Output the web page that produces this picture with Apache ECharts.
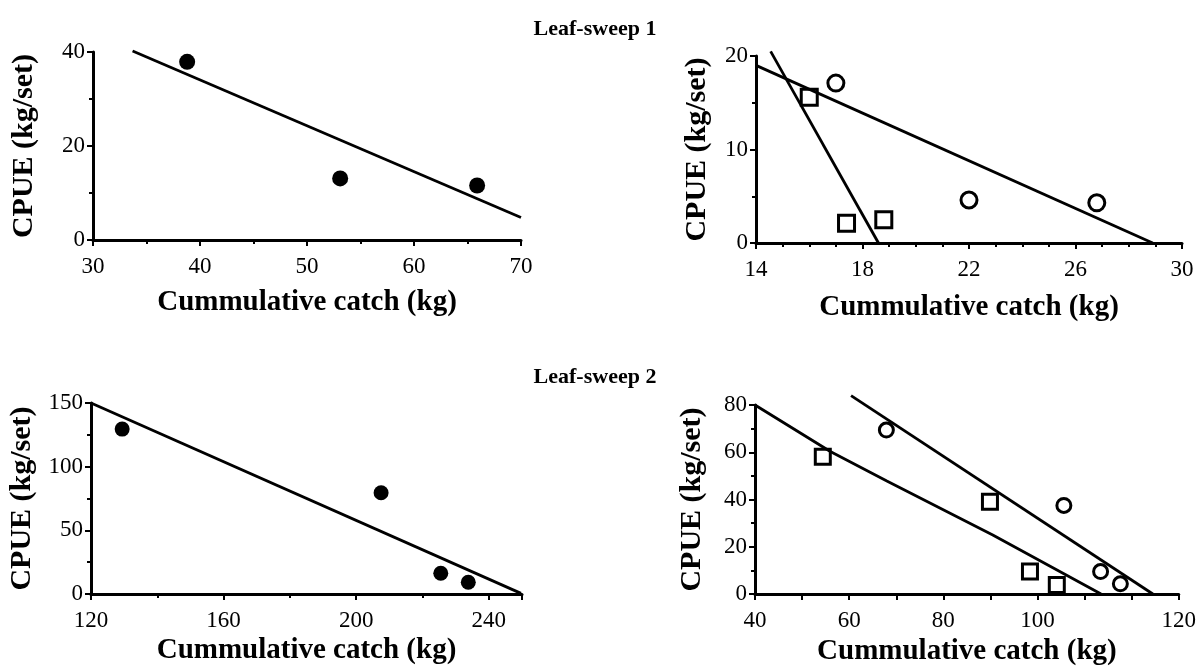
<!DOCTYPE html>
<html>
<head>
<meta charset="utf-8">
<script src="https://cdn.jsdelivr.net/npm/echarts@6/dist/echarts.min.js"></script>
<style>
  html, body { margin: 0; padding: 0; background: #fff; }
  #chart { width: 1199px; height: 667px; }
</style>
</head>
<body>
<div id="chart"></div>
<script>
// titles
const title1 = 'Leaf-sweep 1'
const title2 = 'Leaf-sweep 2'
const xName = 'Cummulative catch (kg)'
const yName = 'CPUE (kg/set)'

// Leaf-sweep 1, left panel
const aDots = [[38.8, 37.9], [53.1, 13.1], [65.9, 11.6]]
const aFit = [[33.7, 40.2], [70, 4.8]]
const aXLabels = ['30', '40', '50', '60', '70']
const aYLabels = ['0', '20', '40']

// Leaf-sweep 1, right panel
const bCircles = [[17.0, 17.1], [22.0, 4.6], [26.8, 4.3]]
const bSquares = [[16.0, 15.6], [17.4, 2.1], [18.8, 2.5]]
const bCircleFit = [[14, 19.0], [28.9, 0]]
const bSquareFit = [[14.55, 20.5], [18.6, 0]]
const bXLabels = ['14', '18', '22', '26', '30']
const bYLabels = ['0', '10', '20']

// Leaf-sweep 2, left panel
const cDots = [[129.4, 129.5], [207.5, 79.5], [225.5, 16.3], [233.8, 9.2]]
const cFit = [[120, 150], [249.7, 0.5]]
const cXLabels = ['120', '160', '200', '240']
const cYLabels = ['0', '50', '100', '150']

// Leaf-sweep 2, right panel
const dSquares = [[54.4, 58.1], [89.9, 39.0], [98.4, 9.5], [104.1, 3.8]]
const dCircles = [[67.9, 69.4], [105.6, 37.5], [113.4, 9.5], [117.6, 4.3]]
const dCircleFit = [[60.4, 84.0], [124.5, 0]]
const dSquareFit = [[40, 80], [56, 60.3], [68, 47.8], [90.5, 25.0], [113.5, 0]]
// ticks every 10 from 40 to 130, the last one is labelled 120 as in the figure
const dXLabels = ['40', '', '60', '', '80', '', '100', '', '', '120']
const dYLabels = ['0', '20', '40', '60', '80']

const serif = '"Liberation Serif", "DejaVu Serif", serif'
const black = '#000'

// label for a tick value, blank when the tick is not on the interval grid
function pick(labels, v, min, interval) {
  const i = (v - min) / interval
  if (Math.abs(i - Math.round(i)) > 1e-6) return ''
  return labels[Math.round(i)] || ''
}

function xAxis(idx, min, max, interval, labels, minorSplit, nameGap) {
  return {
    type: 'value', gridIndex: idx, min: min, max: max, interval: interval,
    name: xName, nameLocation: 'middle', nameGap: nameGap,
    nameTextStyle: { fontFamily: serif, fontWeight: 'bold', fontSize: 29, color: black },
    axisLine: { onZero: false, lineStyle: { color: black, width: 3 } },
    axisTick: { length: 6, lineStyle: { color: black, width: 2 } },
    minorTick: { show: minorSplit > 1, splitNumber: minorSplit, length: 4, lineStyle: { color: black, width: 2 } },
    splitLine: { show: false },
    axisLabel: {
      margin: 15, fontFamily: serif, fontSize: 23, color: black,
      formatter: (v) => pick(labels, v, min, interval)
    }
  }
}

function yAxis(idx, min, max, interval, labels, minorSplit, nameGap) {
  return {
    type: 'value', gridIndex: idx, min: min, max: max, interval: interval,
    name: yName, nameLocation: 'middle', nameGap: nameGap, nameRotate: 90,
    nameTextStyle: { fontFamily: serif, fontWeight: 'bold', fontSize: 30, color: black },
    axisLine: { onZero: false, lineStyle: { color: black, width: 3 } },
    axisTick: { length: 6, lineStyle: { color: black, width: 2 } },
    minorTick: { show: true, splitNumber: minorSplit, length: 4, lineStyle: { color: black, width: 2 } },
    splitLine: { show: false },
    axisLabel: {
      margin: 8, fontFamily: serif, fontSize: 23, color: black,
      formatter: (v) => pick(labels, v, min, interval)
    }
  }
}

function fit(idx, data) {
  return {
    type: 'line', xAxisIndex: idx, yAxisIndex: idx, data: data,
    symbol: 'none', clip: false, silent: true,
    lineStyle: { color: black, width: 2.8 }
  }
}

function dots(idx, data, symbol, size, filled) {
  return {
    type: 'scatter', xAxisIndex: idx, yAxisIndex: idx, data: data,
    symbol: symbol, symbolSize: size, clip: false,
    itemStyle: filled
      ? { color: black, opacity: 1 }
      : { color: '#fff', borderColor: black, borderWidth: 3, opacity: 1 }
  }
}

const chart = echarts.init(document.getElementById('chart'), null, { renderer: 'canvas' })

chart.setOption({
  backgroundColor: '#fff',
  animation: false,
  title: [
    { text: title1, left: 590, top: 24, textAlign: 'center', textVerticalAlign: 'middle',
      textStyle: { fontFamily: serif, fontWeight: 'bold', fontSize: 22, color: black } },
    { text: title2, left: 590, top: 372, textAlign: 'center', textVerticalAlign: 'middle',
      textStyle: { fontFamily: serif, fontWeight: 'bold', fontSize: 22, color: black } }
  ],
  grid: [
    { left: 93, right: 678, top: 52, bottom: 427 },
    { left: 756, right: 17, top: 56, bottom: 424 },
    { left: 91, right: 677, top: 403, bottom: 73 },
    { left: 755, right: 16, top: 405, bottom: 73 }
  ],
  xAxis: [
    xAxis(0, 30, 70, 10, aXLabels, 2, 48),
    xAxis(1, 14, 30, 4, bXLabels, 4, 50),
    xAxis(2, 120, 250, 40, cXLabels, 2, 42),
    xAxis(3, 40, 130, 10, dXLabels, 1, 43)
  ],
  yAxis: [
    yAxis(0, 0, 40, 20, aYLabels, 2, 54),
    yAxis(1, 0, 20, 10, bYLabels, 2, 44),
    yAxis(2, 0, 150, 50, cYLabels, 2, 54),
    yAxis(3, 0, 80, 20, dYLabels, 2, 48)
  ],
  series: [
    fit(0, aFit),
    dots(0, aDots, 'circle', 16, true),
    fit(1, bCircleFit),
    fit(1, bSquareFit),
    dots(1, bCircles, 'circle', 16, false),
    dots(1, bSquares, 'rect', 16, false),
    fit(2, cFit),
    dots(2, cDots, 'circle', 15, true),
    fit(3, dCircleFit),
    fit(3, dSquareFit),
    dots(3, dCircles, 'circle', 14, false),
    dots(3, dSquares, 'rect', 15, false)
  ]
})
</script>
</body>
</html>
